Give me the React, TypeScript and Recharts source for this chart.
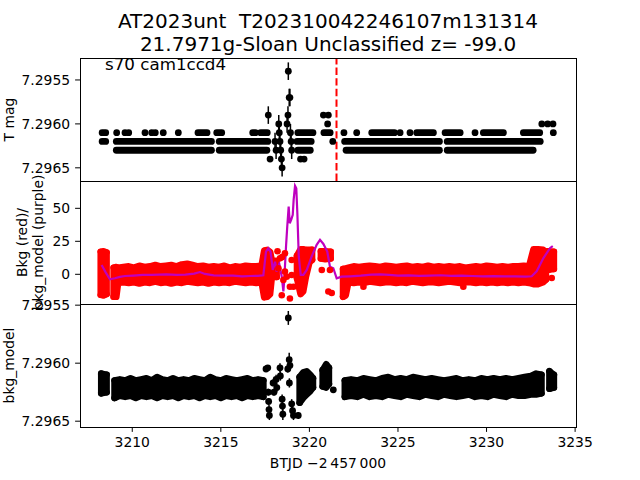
import React from "react";
import {
  ComposedChart,
  XAxis,
  YAxis,
  Line,
  Scatter,
  Area,
  ErrorBar,
  ReferenceLine,
} from "recharts";

const FONT = "'DejaVu Sans', sans-serif";

// shared time axis (BTJD)
const X_TICKS = [3210, 3215, 3220, 3225, 3230, 3235];
const EVENT_T = 3221.53;

// ---- panel 1: T mag (quantised levels) ----
const MAG_TICKS = [7.2955, 7.296, 7.2965];
// dense runs on each level: [start, end]
const MAG_61_RUNS: [number, number][] = [
  [3208.3, 3208.5],
  [3213.71, 3214.22],
  [3214.77, 3215.05],
  [3216.8, 3216.95],
  [3217.25, 3217.62],
  [3219.35, 3220.2],
  [3220.82, 3221.17],
  [3223.52, 3224.8],
  [3226.06, 3227.0],
  [3227.66, 3228.51],
  [3229.82, 3230.95],
  [3232.08, 3233.0],
];
const MAG_62_RUNS: [number, number][] = [
  [3208.3, 3208.5],
  [3209.1, 3214.47],
  [3214.91, 3217.65],
  [3219.3, 3220.1],
  [3221.99, 3227.34],
  [3227.78, 3233.03],
];
const MAG_63_RUNS: [number, number][] = [
  [3209.1, 3214.47],
  [3214.91, 3217.6],
  [3219.35, 3220.05],
  [3222.07, 3227.34],
  [3227.78, 3232.63],
];
// single points: [BTJD, mag, err]
const MAG_POINTS: [number, number, number][] = [
  [3209.12, 7.2961, 0.00002],
  [3209.59, 7.2961, 0.00002],
  [3209.8, 7.2961, 0.00002],
  [3210.72, 7.2961, 0.00002],
  [3211.1, 7.2961, 0.00002],
  [3211.3, 7.2961, 0.00002],
  [3211.75, 7.2961, 0.00002],
  [3212.6, 7.2961, 0.00002],
  [3217.68, 7.2959, 0.0001],
  [3217.78, 7.2964, 0.00003],
  [3218.06, 7.2962, 0.0001],
  [3218.12, 7.2963, 0.0001],
  [3218.27, 7.296, 0.0001],
  [3218.3, 7.2961, 0.0001],
  [3218.34, 7.2962, 0.0001],
  [3218.38, 7.2963, 0.0001],
  [3218.42, 7.2964, 0.0001],
  [3218.46, 7.2965, 0.0001],
  [3218.74, 7.296, 0.0001],
  [3218.79, 7.2959, 0.0001],
  [3218.81, 7.2954, 0.0001],
  [3218.86, 7.2957, 0.0001],
  [3218.9, 7.2957, 0.0001],
  [3218.93, 7.2961, 0.0001],
  [3218.97, 7.2962, 0.0001],
  [3219.0, 7.2963, 0.0001],
  [3219.5, 7.2964, 0.00003],
  [3219.7, 7.2964, 0.00003],
  [3220.79, 7.2959, 0.00003],
  [3221.07, 7.2959, 0.00003],
  [3221.03, 7.296, 0.00003],
  [3221.32, 7.2962, 0.00003],
  [3221.95, 7.2961, 0.00002],
  [3222.67, 7.2961, 0.00002],
  [3225.12, 7.2961, 0.00002],
  [3225.68, 7.2961, 0.00002],
  [3229.35, 7.2961, 0.00002],
  [3233.77, 7.2961, 0.00002],
  [3233.12, 7.296, 0.00002],
  [3233.45, 7.296, 0.00002],
  [3233.75, 7.296, 0.00002],
];

// ---- panel 2: background (red spread) and bkg_model (purple) ----
const BKG_TICKS = [0, 25, 50];
// red scatter envelope [BTJD, low, high]
const BKG_SEG_A: [number, number, number][] = [
  [3208.22, -15.5, 17],
  [3208.38, -16, 17.5],
  [3208.55, -15, 16.5],
];
const BKG_SEG_B: [number, number, number][] = [
  [3208.95, -17, 5],
  [3209.1, -17, 5.5],
  [3209.2, -6.5, 5],
  [3209.5, -6, 5.5],
  [3209.8, -6.5, 6],
  [3210.1, -6, 5],
  [3210.4, -7, 6.5],
  [3210.7, -6, 5.5],
  [3211.0, -6.5, 6],
  [3211.3, -5.5, 7],
  [3211.6, -6.5, 6],
  [3211.9, -6, 6.5],
  [3212.2, -7, 7],
  [3212.5, -6, 6],
  [3212.8, -6.5, 7.5],
  [3213.1, -5.5, 8],
  [3213.4, -6, 7],
  [3213.7, -6.5, 6],
  [3214.0, -6, 6.5],
  [3214.3, -7, 5.5],
  [3214.6, -6, 6],
  [3214.9, -6.5, 5.5],
  [3215.2, -6, 6.5],
  [3215.5, -6.5, 5],
  [3215.8, -5.5, 6],
  [3216.1, -6, 5.5],
  [3216.4, -6.5, 6.5],
  [3216.7, -6, 6],
  [3217.0, -6.5, 6],
  [3217.3, -6, 6.5],
  [3217.45, -17.5, 18],
  [3217.62, -17, 18.5],
  [3217.78, -15, 17],
  [3217.88, -2, 10.5],
  [3218.15, -2, 10],
];
const BKG_SEG_D: [number, number, number][] = [
  [3219.3, -3, 14],
  [3219.5, -15, 19],
  [3219.65, -13, 19],
  [3219.8, -2, 18.5],
  [3220.0, 9, 18.5],
  [3220.15, 11, 18.5],
];
const BKG_SEG_E: [number, number, number][] = [
  [3220.65, 12, 17.5],
  [3220.9, 11.5, 17.5],
  [3221.2, 12, 17],
];
const BKG_SEG_F: [number, number, number][] = [
  [3221.9, -17, 4],
  [3222.05, -16, 4.5],
  [3222.2, -6, 5],
  [3222.5, -6.5, 6],
  [3222.8, -6, 5.5],
  [3223.1, -6.5, 6],
  [3223.4, -5.5, 6.5],
  [3223.7, -6, 6],
  [3224.0, -6.5, 5.5],
  [3224.3, -6, 6.5],
  [3224.6, -6, 6],
  [3224.9, -6.5, 5.5],
  [3225.2, -6, 6],
  [3225.5, -6.5, 6.5],
  [3225.8, -5.5, 5.5],
  [3226.1, -6, 6],
  [3226.4, -6.5, 5.5],
  [3226.7, -6, 6.5],
  [3227.0, -6, 5.5],
  [3227.3, -6.5, 6],
  [3227.6, -6, 5.5],
  [3227.9, -5.5, 6],
  [3228.2, -6, 5.5],
  [3228.5, -6.5, 6],
  [3228.8, -6, 5],
  [3229.1, -6, 5.5],
  [3229.4, -6.5, 6],
  [3229.7, -6, 5.5],
  [3230.0, -6.5, 6.5],
  [3230.3, -6, 6],
  [3230.6, -6.5, 5.5],
  [3230.9, -6, 6],
  [3231.2, -6.5, 5.5],
  [3231.5, -6, 6],
  [3231.8, -6.5, 6],
  [3232.1, -6, 6.5],
  [3232.4, -6.5, 6],
  [3232.65, -7.5, 19],
  [3232.9, -7.5, 19],
  [3233.2, -6, 18.5],
  [3233.35, -4, 17],
];
const BKG_SEG_H: [number, number, number][] = [
  [3233.5, 3.5, 17.5],
  [3233.8, 4, 17],
];
// isolated red points [BTJD, bkg]
const BKG_DOTS: [number, number][] = [
  [3218.2, 17.5],
  [3218.25, 4.6],
  [3218.34, 12.1],
  [3218.45, 13],
  [3218.62, 15.9],
  [3218.62, 2],
  [3218.72, -1.8],
  [3219.0, 10.8],
  [3218.9, -9.4],
  [3219.0, -0.5],
  [3218.9, -18.3],
  [3218.53, -4.3],
  [3218.44, -15.9],
  [3219.1, -9.4],
  [3220.7, 3.3],
  [3221.16, 3.3],
  [3221.07, -13],
  [3221.26, -14.2],
  [3223.05, -9.4],
  [3228.69, -9.4],
  [3233.68, -2.8],
];
// purple bkg_model curve [BTJD, value]
const BKG_MODEL_LINE: [number, number][] = [
  [3208.27, 7.0], [3208.5, 1.5], [3208.74, -3.8], [3209.02, -3.0], [3209.3, -2.0],
  [3209.59, -1.3], [3210.06, -1.0], [3210.6, -0.5], [3211.1, -0.5], [3211.94, 0],
  [3212.5, -0.5], [3213.0, -0.3], [3213.5, 0.5], [3213.82, 1.7], [3214.1, 0.3],
  [3214.6, -0.8], [3215.2, -1.0], [3215.69, -1.0], [3216.2, -1.5], [3216.65, -1.3],
  [3217.1, -1.2], [3217.4, -0.8], [3217.55, 17.2], [3217.68, 19.7], [3217.81, 17],
  [3217.93, 3.3], [3218.06, 9.5], [3218.15, 2], [3218.3, 7.8], [3218.44, -1.8],
  [3218.53, -13], [3218.58, -4.3], [3218.68, 21], [3218.75, 36.2], [3218.83, 51.4],
  [3218.89, 38.7], [3218.98, 41.7], [3219.06, 45], [3219.11, 56.4], [3219.19, 67],
  [3219.26, 65.2], [3219.32, 46.3], [3219.4, 13.5], [3219.51, -0.5], [3219.66, -0.5],
  [3219.85, 3.3], [3220.13, 13.5], [3220.41, 22.3], [3220.6, 26.1], [3220.79, 23],
  [3221.01, 17.2], [3221.16, 5.8], [3221.35, 4.6], [3221.54, -3], [3221.82, -1.8],
  [3222.3, -1.5], [3222.9, -1.0], [3223.5, -0.3], [3224.0, 0], [3224.5, -0.5],
  [3225.0, -1.0], [3225.6, -0.8], [3226.2, -1.2], [3226.8, -1.0], [3227.4, -0.7],
  [3228.0, -1.2], [3228.6, -1.0], [3229.2, -1.3], [3229.8, -1.5], [3230.4, -1.4],
  [3231.0, -1.6], [3231.6, -1.5], [3232.2, -1.7], [3232.55, -1.5], [3232.83, 2.3],
  [3233.21, 12.3], [3233.59, 20], [3233.74, 21.4],
];

// ---- panel 3: mag vs bkg_model ----
const CORR_SEG_A: [number, number, number][] = [
  [3208.25, 7.29609, 7.29626],
  [3208.55, 7.2961, 7.29625],
];
const CORR_SEG_B: [number, number, number][] = [
  [3209.0, 7.29615, 7.2963], [3209.3, 7.29614, 7.29628], [3209.6, 7.29615, 7.29629],
  [3209.9, 7.29613, 7.29628], [3210.2, 7.29615, 7.2963], [3210.5, 7.29614, 7.29628],
  [3210.8, 7.29613, 7.29629], [3211.1, 7.29615, 7.29628], [3211.4, 7.29612, 7.2963],
  [3211.7, 7.29614, 7.29628], [3212.0, 7.29615, 7.29629], [3212.3, 7.29613, 7.29628],
  [3212.6, 7.29615, 7.2963], [3212.9, 7.29614, 7.29628], [3213.2, 7.29615, 7.29629],
  [3213.5, 7.29613, 7.29628], [3213.8, 7.29614, 7.2963], [3214.1, 7.29615, 7.29628],
  [3214.4, 7.29612, 7.29629], [3214.7, 7.29614, 7.29628], [3215.0, 7.29615, 7.2963],
  [3215.3, 7.29613, 7.29628], [3215.6, 7.29614, 7.29629], [3215.9, 7.29615, 7.29628],
  [3216.2, 7.29614, 7.2963], [3216.5, 7.29613, 7.29628], [3216.8, 7.29615, 7.29629],
  [3217.1, 7.29614, 7.29628], [3217.4, 7.29615, 7.29629],
];
const CORR_SEG_C: [number, number, number][] = [
  [3219.45, 7.29612, 7.29634],
  [3219.65, 7.29608, 7.2963],
  [3219.85, 7.29607, 7.29627],
  [3220.05, 7.2961, 7.29624],
  [3220.2, 7.29613, 7.29621],
];
const CORR_SEG_D: [number, number, number][] = [
  [3220.75, 7.29606, 7.2962],
  [3220.95, 7.29601, 7.29621],
  [3221.1, 7.29604, 7.29618],
];
const CORR_SEG_E: [number, number, number][] = [
  [3222.0, 7.29615, 7.29629], [3222.35, 7.29614, 7.29628], [3222.7, 7.29615, 7.29629],
  [3223.05, 7.29613, 7.29627], [3223.4, 7.29614, 7.29629], [3223.75, 7.29615, 7.29628],
  [3224.1, 7.29613, 7.29629], [3224.45, 7.29612, 7.29627], [3224.8, 7.29614, 7.29628],
  [3225.15, 7.29613, 7.29629], [3225.5, 7.29614, 7.29627], [3225.85, 7.29612, 7.29628],
  [3226.2, 7.29613, 7.29629], [3226.55, 7.29614, 7.29627], [3226.9, 7.29613, 7.29628],
  [3227.25, 7.29614, 7.29629], [3227.6, 7.29615, 7.29627], [3227.95, 7.29614, 7.29628],
  [3228.3, 7.29613, 7.29629], [3228.65, 7.29615, 7.29628], [3229.0, 7.29614, 7.29627],
  [3229.35, 7.29615, 7.29629], [3229.7, 7.29613, 7.29628], [3230.05, 7.29614, 7.29629],
  [3230.4, 7.29613, 7.29627], [3230.75, 7.29614, 7.29628], [3231.1, 7.29613, 7.29629],
  [3231.45, 7.29614, 7.29627], [3231.8, 7.29613, 7.29628], [3232.15, 7.29612, 7.29628],
  [3232.5, 7.29611, 7.29627], [3232.8, 7.29609, 7.29627], [3233.1, 7.2961, 7.29626],
];
const CORR_SEG_F: [number, number, number][] = [
  [3233.55, 7.29607, 7.29622],
  [3233.8, 7.2961, 7.29621],
];
const CORR_POINTS: [number, number, number][] = [
  [3217.55, 7.29605, 0.00002],
  [3217.65, 7.29604, 0.00002],
  [3217.68, 7.29625, 0.00003],
  [3217.7, 7.29633, 0.00003],
  [3217.72, 7.2964, 0.00004],
  [3217.74, 7.29645, 0.00004],
  [3217.95, 7.29617, 0.00003],
  [3218.0, 7.29625, 0.00003],
  [3218.12, 7.29614, 0.00004],
  [3218.16, 7.29621, 0.00004],
  [3218.34, 7.29604, 0.00004],
  [3218.36, 7.29611, 0.00004],
  [3218.46, 7.29631, 0.00004],
  [3218.48, 7.29637, 0.00004],
  [3218.5, 7.29644, 0.00005],
  [3218.81, 7.29561, 0.00006],
  [3218.78, 7.29605, 0.00003],
  [3218.86, 7.29597, 0.00006],
  [3218.9, 7.29602, 0.00004],
  [3218.87, 7.29617, 0.00004],
  [3219.0, 7.29635, 0.00004],
  [3219.05, 7.29641, 0.00004],
  [3219.1, 7.29645, 0.00004],
  [3219.37, 7.29645, 0.00003],
  [3221.35, 7.29623, 0.00002],
];

const tickStyle = { fill: "#000", fontSize: 13.9, fontFamily: FONT };
const fmt4 = (v: number) => v.toFixed(4);

const blackDot = (p: any) => <circle cx={p.cx} cy={p.cy} r={3.4} fill="#000" />;
const redDot = (p: any) => <circle cx={p.cx} cy={p.cy} r={3.3} fill="#ff0000" />;

function runLines(runs: [number, number][], level: number, key: string) {
  return runs.map(([a, b], i) => (
    <Line
      key={`${key}${i}`}
      data={[{ t: a, m: level }, { t: b, m: level }]}
      dataKey="m"
      type="linear"
      stroke="#000"
      strokeWidth={6.8}
      strokeLinecap="round"
      dot={false}
      activeDot={false}
      isAnimationActive={false}
    />
  ));
}

// a cloud of points drawn as a filled envelope, with rounded edges and closed ends
function band(seg: [number, number, number][], color: string, key: string) {
  const first = seg[0];
  const last = seg[seg.length - 1];
  const cap = (p: [number, number, number], k: string) => (
    <Line
      key={k}
      data={[{ t: p[0], m: p[1] }, { t: p[0], m: p[2] }]}
      dataKey="m"
      type="linear"
      stroke={color}
      strokeWidth={6.6}
      strokeLinecap="round"
      dot={false}
      activeDot={false}
      isAnimationActive={false}
    />
  );
  return [
    <Area
      key={key}
      data={seg.map(([t, lo, hi]) => ({ t, r: [lo, hi] }))}
      dataKey="r"
      type="linear"
      fill={color}
      fillOpacity={1}
      stroke={color}
      strokeWidth={6.6}
      strokeLinejoin="round"
      strokeLinecap="round"
      dot={false}
      activeDot={false}
      isAnimationActive={false}
    />,
    cap(first, `${key}-s`),
    cap(last, `${key}-e`),
  ];
}

const xAxisHidden = (
  <XAxis type="number" dataKey="t" domain={[3207.05, 3235.05]} allowDataOverflow hide />
);

export default function App() {
  const layer: React.CSSProperties = { position: "absolute", left: 0, top: 0 };
  return (
    <div
      style={{
        position: "absolute",
        left: 0,
        top: 0,
        width: 640,
        height: 480,
        background: "#fff",
        fontFamily: FONT,
      }}
    >
      {/* T mag */}
      <div style={layer}>
        <ComposedChart width={640} height={480} margin={{ top: 58, right: 64, bottom: 299, left: 20 }}>
          {xAxisHidden}
          <YAxis
            type="number"
            domain={[7.29525, 7.29665]}
            reversed
            allowDataOverflow
            ticks={MAG_TICKS}
            interval={0}
            tickFormatter={fmt4}
            width={60}
            tick={tickStyle}
            tickLine={{ stroke: "#000" }}
            tickSize={4.9}
            tickMargin={5}
            axisLine={false}
          />
          {runLines(MAG_61_RUNS, 7.2961, "r61-")}
          {runLines(MAG_62_RUNS, 7.2962, "r62-")}
          {runLines(MAG_63_RUNS, 7.2963, "r63-")}
          <Scatter
            data={MAG_POINTS.map(([t, m, e]) => ({ t, m, e }))}
            dataKey="m"
            shape={blackDot}
            isAnimationActive={false}
          >
            <ErrorBar dataKey="e" direction="y" width={0} stroke="#000" strokeWidth={1.5} isAnimationActive={false} />
          </Scatter>
          <ReferenceLine x={EVENT_T} stroke="#ff0000" strokeWidth={2} strokeDasharray="7.4 3.2" />
        </ComposedChart>
      </div>

      {/* Bkg / bkg_model */}
      <div style={layer}>
        <ComposedChart width={640} height={480} margin={{ top: 181, right: 64, bottom: 176, left: 20 }}>
          {xAxisHidden}
          <YAxis
            type="number"
            domain={[-22.5, 70.7]}
            allowDataOverflow
            ticks={BKG_TICKS}
            interval={0}
            width={60}
            tick={tickStyle}
            tickLine={{ stroke: "#000" }}
            tickSize={4.9}
            tickMargin={5}
            axisLine={false}
          />
          {band(BKG_SEG_A, "#ff0000", "ba")}
          {band(BKG_SEG_B, "#ff0000", "bb")}
          {band(BKG_SEG_D, "#ff0000", "bd")}
          {band(BKG_SEG_E, "#ff0000", "be")}
          {band(BKG_SEG_F, "#ff0000", "bf")}
          {band(BKG_SEG_H, "#ff0000", "bh")}
          <Scatter
            data={BKG_DOTS.map(([t, m]) => ({ t, m }))}
            dataKey="m"
            shape={redDot}
            isAnimationActive={false}
          />
          <Line
            data={BKG_MODEL_LINE.map(([t, m]) => ({ t, m }))}
            dataKey="m"
            type="linear"
            stroke="#bf00bf"
            strokeWidth={2.2}
            dot={false}
            activeDot={false}
            isAnimationActive={false}
          />
        </ComposedChart>
      </div>

      {/* mag vs bkg_model */}
      <div style={layer}>
        <ComposedChart width={640} height={480} margin={{ top: 304, right: 64, bottom: 0, left: 20 }}>
          <XAxis
            type="number"
            dataKey="t"
            domain={[3207.05, 3235.05]}
            allowDataOverflow
            ticks={X_TICKS}
            interval={0}
            height={53}
            tick={tickStyle}
            tickLine={{ stroke: "#000" }}
            tickSize={4.9}
            tickMargin={5}
            axisLine={false}
          />
          <YAxis
            type="number"
            domain={[7.29549, 7.29655]}
            reversed
            allowDataOverflow
            ticks={MAG_TICKS}
            interval={0}
            tickFormatter={fmt4}
            width={60}
            tick={tickStyle}
            tickLine={{ stroke: "#000" }}
            tickSize={4.9}
            tickMargin={5}
            axisLine={false}
          />
          {band(CORR_SEG_A, "#000", "ca")}
          {band(CORR_SEG_B, "#000", "cb")}
          {band(CORR_SEG_C, "#000", "cc")}
          {band(CORR_SEG_D, "#000", "cd")}
          {band(CORR_SEG_E, "#000", "ce")}
          {band(CORR_SEG_F, "#000", "cf")}
          <Scatter
            data={CORR_POINTS.map(([t, m, e]) => ({ t, m, e }))}
            dataKey="m"
            shape={blackDot}
            isAnimationActive={false}
          >
            <ErrorBar dataKey="e" direction="y" width={0} stroke="#000" strokeWidth={1.5} isAnimationActive={false} />
          </Scatter>
        </ComposedChart>
      </div>

      {/* axes frames */}
      {[58, 181, 304].map((top) => (
        <div
          key={top}
          style={{
            position: "absolute",
            left: 80,
            top,
            width: 497,
            height: 124,
            border: "1px solid #000",
            boxSizing: "border-box",
            pointerEvents: "none",
          }}
        />
      ))}

      {/* titles and labels */}
      <svg width={640} height={480} style={{ ...layer, pointerEvents: "none" }} fontFamily={FONT} fill="#000">
        <text x={328} y={28} fontSize={20} textAnchor="middle">
          AT2023unt{"\u00a0\u00a0"}T202310042246107m131314
        </text>
        <text x={328} y={51} fontSize={20} textAnchor="middle">
          21.7971g-Sloan Unclassified z= -99.0
        </text>
        <text x={105} y={70} fontSize={16.7}>
          s70 cam1ccd4
        </text>
        <text transform="translate(13.5,119.5) rotate(-90)" fontSize={13.9} textAnchor="middle">
          T mag
        </text>
        <text transform="translate(26.7,242.5) rotate(-90)" fontSize={13.9} textAnchor="middle">
          Bkg (red)/
        </text>
        <text transform="translate(43.4,242.5) rotate(-90)" fontSize={13.9} textAnchor="middle">
          bkg_model (purple)
        </text>
        <text transform="translate(13.5,365.5) rotate(-90)" fontSize={13.9} textAnchor="middle">
          bkg_model
        </text>
        <text x={328} y={468} fontSize={13.9} textAnchor="middle">
          {"BTJD \u22122\u2009457\u2009000"}
        </text>
      </svg>
    </div>
  );
}
